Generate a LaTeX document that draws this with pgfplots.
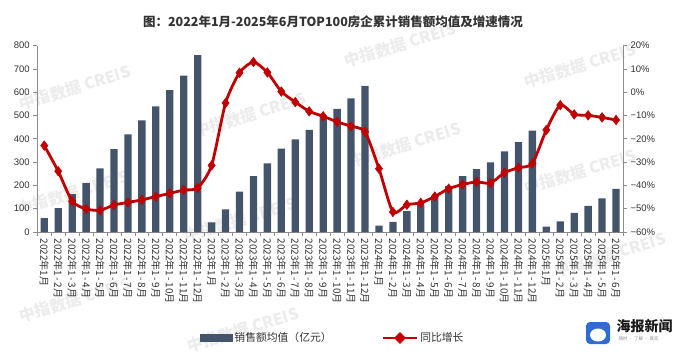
\documentclass[border=0pt]{standalone}
\usepackage{pgfplots}
\pgfplotsset{compat=1.18}
\usepackage{fontspec}
\setmainfont{Liberation Sans}
\newfontfamily\cjk{Noto Sans CJK SC}
\newcommand\hy{\kern1.4bp-\kern1.4bp}
\definecolor{barc}{HTML}{44546A}
\definecolor{redc}{HTML}{C00000}
\definecolor{axc}{HTML}{8C8C8C}
\definecolor{tickc}{HTML}{333333}
\definecolor{wm}{HTML}{ECECEC}
\definecolor{logob}{HTML}{2F6BD0}
\begin{document}
\begin{tikzpicture}[x=1bp,y=1bp]
% watermarks
\foreach \wx/\wy in {75/88, 73/193, 250/115, 400/45, 405/145, 240/220, 580/66, 580/172, 243/330, 610/255, 75/300}{
  \node[rotate=17, text=wm, font=\cjk\bfseries\fontsize{16bp}{16bp}\selectfont] at (\wx,{354-\wy}) {中指数据 CREIS};
}
\node[font=\cjk\bfseries\fontsize{12.5bp}{12.5bp}\selectfont, text=black!80] at (333,332) {图：2022年1月-2025年6月TOP100房企累计销售额均值及增速情况};
\begin{axis}[
  at={(44.27bp,122bp)}, anchor=origin,
  scale only axis, width=585.7bp, height=186.3bp,
  xmin=-0.5, xmax=41.5, ymin=0, ymax=800,
  axis x line*=bottom, axis y line*=left,
  axis line style={axc, line width=0.8bp},
  tick style={axc, line width=0.8bp},
  tick align=outside, major tick length=4bp, minor tick length=4bp,
  ytick={0,100,...,800},
  /pgf/number format/assume math mode=true,
  yticklabel style={font=\fontsize{9.5bp}{9.5bp}\selectfont, text=tickc},
  xtick={0,...,41},
  major x tick style={draw=none},
  minor xtick={-0.5,0.5,...,41.5},
  xticklabel style={rotate=-90, anchor=west, font=\cjk\fontsize{10bp}{10bp}\selectfont, text=tickc, inner sep=2.5bp},
  xticklabels={2022年1月,2022年1\hy2月,2022年1\hy3月,2022年1\hy4月,2022年1\hy5月,2022年1\hy6月,2022年1\hy7月,2022年1\hy8月,2022年1\hy9月,2022年1\hy10月,2022年1\hy11月,2022年1\hy12月,
  2023年1月,2023年1\hy2月,2023年1\hy3月,2023年1\hy4月,2023年1\hy5月,2023年1\hy6月,2023年1\hy7月,2023年1\hy8月,2023年1\hy9月,2023年1\hy10月,2023年1\hy11月,2023年1\hy12月,
  2024年1月,2024年1\hy2月,2024年1\hy3月,2024年1\hy4月,2024年1\hy5月,2024年1\hy6月,2024年1\hy7月,2024年1\hy8月,2024年1\hy9月,2024年1\hy10月,2024年1\hy11月,2024年1\hy12月,
  2025年1月,2025年1\hy2月,2025年1\hy3月,2025年1\hy4月,2025年1\hy5月,2025年1\hy6月},
]
\addplot[ybar, bar width=7.3bp, fill=barc, draw=none] coordinates {
(0,60) (1,103) (2,163) (3,210) (4,273) (5,356) (6,419) (7,479) (8,539) (9,609) (10,672) (11,760)
(12,41) (13,97) (14,173) (15,240) (16,295) (17,358) (18,398) (19,439) (20,491) (21,529) (22,574) (23,628)
(24,27) (25,44) (26,90) (27,116) (28,152) (29,197) (30,240) (31,270) (32,299) (33,346) (34,386) (35,435)
(36,23) (37,46) (38,82) (39,112) (40,144) (41,185)
};
\end{axis}
\begin{axis}[
  at={(44.27bp,261.725bp)}, anchor=origin,
  scale only axis, width=585.7bp, height=186.3bp,
  xmin=-0.5, xmax=41.5, ymin=-60, ymax=20,
  axis x line=none, axis y line*=right,
  axis line style={axc, line width=0.8bp},
  tick style={axc, line width=0.8bp},
  tick align=outside, major tick length=4bp,
  ytick={-60,-50,...,20},
  yticklabels={−60\%,−50\%,−40\%,−30\%,−20\%,−10\%,0\%,10\%,20\%},
  yticklabel style={font=\fontsize{9.5bp}{9.5bp}\selectfont, text=tickc},
  legend style={at={(0.5045,-0.569)}, anchor=center, draw=none, fill=none,
    font=\cjk\fontsize{10.8bp}{10.8bp}\selectfont, text=tickc,
    /tikz/every even column/.append style={column sep=48bp}},
  legend columns=2,
]
\addlegendimage{legend image code/.code={\fill[barc] (0bp,-3.5bp) rectangle (32bp,3.5bp);}}
\addlegendentry{销售额均值（亿元）}
\addplot[redc, line width=2.8bp, smooth, tension=0.4, mark=diamond*, mark size=4.8bp,
  mark options={fill=redc, draw=redc, line width=0.5bp},
  legend image code/.code={\draw[redc, line width=2.6bp] (0bp,0bp) -- (34bp,0bp);
    \fill[redc] (17bp,4bp) -- (21bp,0bp) -- (17bp,-4bp) -- (13bp,0bp) -- cycle;}] coordinates {
(0,-22.9) (1,-33.9) (2,-46.8) (3,-50.1) (4,-50.7) (5,-48.4) (6,-47.3) (7,-46.2) (8,-44.8) (9,-43.4) (10,-42.0) (11,-41.1)
(12,-31.4) (13,-4.6) (14,8.4) (15,13.0) (16,8.5) (17,0.3) (18,-4.2) (19,-8.2) (20,-10.3) (21,-12.7) (22,-14.6) (23,-17.0)
(24,-32.8) (25,-51.4) (26,-48.3) (27,-47.5) (28,-44.8) (29,-41.4) (30,-39.6) (31,-38.5) (32,-39.0) (33,-34.5) (34,-32.4) (35,-30.6)
(36,-16.2) (37,-5.5) (38,-9.5) (39,-9.9) (40,-10.8) (41,-11.9)
};
\addlegendentry{同比增长}
\end{axis}
% logo
\fill[logob, rounded corners=4bp] (586,10) rectangle (610,32);
\fill[white] (598,19) ellipse (8bp and 6.5bp);
\node[font=\cjk\bfseries\fontsize{14bp}{14bp}\selectfont, text=black!90, anchor=west] at (613,28) {海报新闻};
\node[font=\cjk\fontsize{4.5bp}{4.5bp}\selectfont, text=black!45, anchor=west] at (615,15) {随时 · 了解 · 真实};
\pgfresetboundingbox
\useasboundingbox (0,0) rectangle (685,354);
\end{tikzpicture}
\end{document}
